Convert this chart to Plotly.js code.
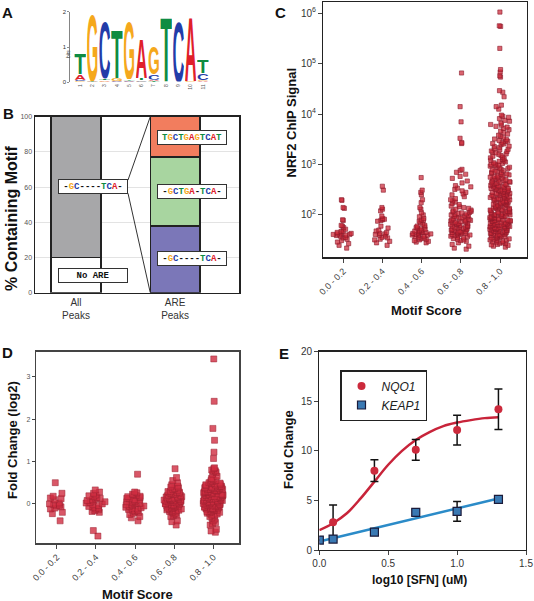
<!DOCTYPE html>
<html><head><meta charset="utf-8">
<script src="https://cdn.plot.ly/plotly-3.0.1.min.js"></script>
<style>html,body{margin:0;padding:0;background:#fff;}#chart{width:534px;height:601px;}</style>
</head><body><div id="chart"></div>
<script>
// ================= DATA =================
// A: sequence logo (bits per nucleotide at each position)
const logoPositions = [1,2,3,4,5,6,7,8,9,10,11];
const logoA = [0.16,0.02,0.04,0.02,0.03,1.13,0.04,0.00,0.01,1.87,0.03];
const logoC = [0.04,0.00,1.63,0.02,0.02,0.04,0.16,0.01,1.78,0.00,0.19];
const logoG = [0.03,1.95,0.02,0.08,1.68,0.02,0.80,0.01,0.01,0.02,0.03];
const logoT = [0.61,0.02,0.05,1.40,0.04,0.06,0.03,1.87,0.00,0.01,0.38];

// B: % containing motif
const peakSets = ['All<br>Peaks','ARE<br>Peaks'];
const allNoARE = [20];
const allWithARE = [80];
const areCore = [38];      // -GC----TCA-
const areExtended = [39];  // -GCTGA-TCA-
const areFull = [23];      // TGCTGAGTCAT

// C / D: motif score bins
const motifBins = ['0.0 - 0.2','0.2 - 0.4','0.4 - 0.6','0.6 - 0.8','0.8 - 1.0'];
const chipBin1 = [200,195,140,135,80,78,62,60,56,52,48,47,45,44,43,42,41,41,40,40,39,38,36,35,33,31,29,27,25,22];
const chipBin2 = [370,310,140,130,120,95,85,82,80,78,75,60,55,50,48,45,43,42,41,40,38,36,35,33,32,30,28,25];
const chipBin3 = [550,310,280,250,200,175,140,130,110,100,92,85,80,78,75,70,66,62,60,58,56,55,53,52,50,49,48,47,46,45,45,44,43,42,42,41,40,40,39,38,37,36,35,34,33,32,31,30,29,28];
const chipBin4 = [65000,14000,7000,3300,2700,2600,800,760,700,640,580,530,470,430,380,360,340,320,300,280,260,250,230,210,200,190,180,170,160,150,145,140,135,130,125,120,118,115,112,110,107,105,102,100,98,96,94,92,90,88,86,84,82,80,79,78,76,75,74,72,71,70,68,67,66,65,64,62,61,60,59,58,57,56,55,54,53,52,51,50,49,48,47,46,46,45,44,44,43,42,42,41,40,40,39,38,37,36,35,34,33,32,31,30,28,26,24,22,21];
const chipBin5 = [1050000,560000,545000,200000,76000,68000,57000,54000,29000,27000,22000,15000,14000,12500,
 9500,9000,8600,8100,7500,7200,6600,6200,6000,5700,5500,5200,4900,4600,4300,4000,3800,3600,3400,3200,
 3100,3000,2900,2850,2700,2600,2550,2450,2300,2250,2150,2050,2000,1950,1850,1800,1750,1700,1620,1580,1500,1460,1400,1350,1300,1260,1220,1180,1150,1120,1080,1050,1020,1000,
 980,960,930,900,880,850,830,810,790,760,740,720,700,690,670,650,640,620,600,590,575,560,550,540,525,515,500,490,480,470,460,450,445,435,425,415,410,400,395,385,380,372,365,360,352,345,340,335,328,322,318,
 315,310,305,300,295,290,285,280,276,272,268,264,260,255,250,246,242,238,234,230,226,222,218,215,212,208,205,202,198,195,192,188,185,182,180,177,174,171,168,165,162,160,157,155,152,150,148,145,143,140,138,136,134,131,129,127,125,123,121,119,117,115,113,112,110,108,106,105,103,102,100,
 99,98,96,95,94,92,91,90,88,87,86,85,84,82,81,80,79,78,77,76,75,74,73,72,71,70,69,68,67,66,65.5,65,64,63,62.5,62,61,60,59.5,59,58,57.5,57,56,55.5,55,54,53.5,53,52,51.5,51,50,49.5,49,48,47.5,47,46,45.5,45,44,43.5,43,42,41.5,41,40,39.5,39,38,37.5,37,36,35.5,35,34,33.5,33,32,31.5,31,30,29.5,29,28,27.5,27,26,25.5,25,24,23];

const foldBin1 = [0.5,0.25,0.18,0.14,0.12,0.1,0.02,0.0,-0.01,-0.03,-0.05,-0.07,-0.1,-0.12,-0.2,-0.23,-0.4];
const foldBin2 = [0.33,0.28,0.25,0.21,0.19,0.17,0.15,0.13,0.12,0.1,0.08,0.07,0.05,0.03,0.02,0.0,-0.02,-0.04,-0.06,-0.08,-0.1,-0.12,-0.14,-0.16,-0.18,-0.2,-0.63,-0.76];
const foldBin3 = [0.7,0.28,0.26,0.23,0.22,0.2,0.18,0.17,0.15,0.13,0.12,0.1,0.09,0.07,0.06,0.05,0.03,0.02,0.01,0.0,-0.01,-0.02,-0.04,-0.05,-0.06,-0.08,-0.09,-0.1,-0.12,-0.13,-0.15,-0.16,-0.18,-0.2,-0.22,-0.25,-0.3,-0.33,-0.4];
const foldBin4 = [0.83,0.62,0.55,0.5,0.45,0.42,0.4,0.38,0.36,0.34,0.32,0.3,0.29,0.28,0.27,0.26,0.25,0.24,0.23,0.22,0.21,0.2,0.19,0.18,0.17,0.16,0.15,0.14,0.13,0.12,0.12,0.11,0.1,0.1,0.09,0.08,0.08,0.07,0.06,0.06,0.05,0.04,0.04,0.03,0.02,0.02,0.01,0.0,0.0,-0.01,-0.02,-0.02,-0.03,-0.04,-0.05,-0.05,-0.06,-0.07,-0.08,-0.09,-0.1,-0.11,-0.12,-0.13,-0.14,-0.15,-0.16,-0.17,-0.18,-0.2,-0.22,-0.24,-0.26,-0.28,-0.3,-0.4,-0.42,-0.5];
const foldBin5 = [3.42,2.42,1.78,1.5,1.22,1.07,0.85,0.83,0.8,0.78,0.76,0.74,0.7,0.65,0.6,0.58,0.56,0.55,0.53,0.52,0.5,0.49,0.48,0.47,0.46,0.45,0.44,0.43,0.42,0.41,0.4,0.4,0.39,0.38,0.38,0.37,0.36,0.36,0.35,0.34,0.34,0.33,0.32,0.32,0.31,0.3,0.3,0.29,0.28,0.28,0.27,0.26,0.26,0.25,0.24,0.24,0.23,0.22,0.22,0.21,0.2,0.2,0.19,0.18,0.18,0.17,0.16,0.16,0.15,0.14,0.14,0.13,0.12,0.12,0.11,0.1,0.1,0.09,0.08,0.08,0.07,0.06,0.06,0.05,0.04,0.04,0.03,0.02,0.02,0.01,0.0,0.0,-0.01,-0.02,-0.02,-0.03,-0.04,-0.04,-0.05,-0.06,-0.06,-0.07,-0.08,-0.08,-0.09,-0.1,-0.1,-0.11,-0.12,-0.12,-0.13,-0.14,-0.15,-0.16,-0.17,-0.18,-0.19,-0.2,-0.21,-0.22,-0.24,-0.26,-0.28,-0.3,-0.33,-0.36,-0.4,-0.44,-0.47,-0.5,-0.6,-0.64,-0.67];

// E: dose response
const sfnDose = [0,0.1,0.4,0.7,1.0,1.3];
const nqo1 = [1.0,2.8,8.0,10.1,12.1,14.2];
const nqo1Err = [0,1.75,1.1,1.05,1.5,2.05];
const keap1 = [1.0,1.1,1.8,3.8,3.9,5.1];
const keap1Err = [0,0.1,0.15,0.3,1.0,0.35];
const nqo1FitX = [0,0.1,0.2,0.3,0.4,0.5,0.6,0.7,0.8,0.9,1.0,1.1,1.2,1.3];
const nqo1FitY = [2.0,2.7,3.7,5.2,6.9,8.6,10.0,11.1,11.9,12.5,12.85,13.1,13.3,13.4];
const keap1FitX = [0,1.3];
const keap1FitY = [0.85,5.2];

// ================= DRAWING =================
const W = 534, H = 601;
const FONT = 'Liberation Sans, Arial, Helvetica, sans-serif';
const MONO = 'Liberation Mono, Courier New, monospace';
const px = v => v / W;
const py = v => 1 - v / H;
const NT = {A:'#e0202a', C:'#233ca8', G:'#f5a81c', T:'#0f8c42'};

function letterSrc(letter) {
  const svg = '<svg xmlns="http://www.w3.org/2000/svg" width="100" height="100" viewBox="0 0 100 100" preserveAspectRatio="none">' +
    '<text x="0" y="100" textLength="100" lengthAdjust="spacingAndGlyphs" font-family="Liberation Sans, Arial, sans-serif" font-weight="bold" font-size="137" fill="' + NT[letter] + '">' + letter + '</text></svg>';
  return 'data:image/svg+xml;charset=utf-8,' + encodeURIComponent(svg);
}

const images = [];
logoPositions.forEach((p, i) => {
  const stack = [['A', logoA[i]], ['C', logoC[i]], ['G', logoG[i]], ['T', logoT[i]]]
    .filter(d => d[1] > 0.005).sort((a, b) => a[1] - b[1]);
  let base = 0;
  stack.forEach(([l, h]) => {
    images.push({source: letterSrc(l), xref: 'x', yref: 'y', x: p - 0.48, y: base + h,
      sizex: 0.96, sizey: h, xanchor: 'left', yanchor: 'top', sizing: 'stretch', layer: 'above'});
    base += h;
  });
});

function motif(str) {
  return '<b>' + str.split('').map(c => NT[c] ? '<span style="color:' + NT[c] + '">' + c + '</span>' : c).join('') + '</b>';
}

const traces = [];
// invisible trace to set up logo axes
traces.push({x: logoPositions, y: logoPositions.map(() => 0), xaxis: 'x', yaxis: 'y', mode: 'markers',
  marker: {opacity: 0}, showlegend: false, hoverinfo: 'skip'});

// B bars (stacked)
const barLine = {color: '#222', width: 1.5};
const barW = 0.5;
traces.push({type: 'bar', x: [0], y: allNoARE, width: barW, xaxis: 'x2', yaxis: 'y2', marker: {color: '#ffffff', line: barLine}, showlegend: false});
traces.push({type: 'bar', x: [0], y: allWithARE, width: barW, xaxis: 'x2', yaxis: 'y2', marker: {color: '#a7a7a9', line: barLine}, showlegend: false});
traces.push({type: 'bar', x: [1], y: areCore, width: barW, xaxis: 'x2', yaxis: 'y2', marker: {color: '#7b77b8', line: barLine}, showlegend: false});
traces.push({type: 'bar', x: [1], y: areExtended, width: barW, xaxis: 'x2', yaxis: 'y2', marker: {color: '#a8d5a0', line: barLine}, showlegend: false});
traces.push({type: 'bar', x: [1], y: areFull, width: barW, xaxis: 'x2', yaxis: 'y2', marker: {color: '#f27d5e', line: barLine}, showlegend: false});

// C jittered points
[chipBin1, chipBin2, chipBin3, chipBin4, chipBin5].forEach((vals, i) => {
  traces.push({type: 'box', y: vals, x0: i, xaxis: 'x3', yaxis: 'y3', boxpoints: 'all', jitter: 0.75, pointpos: 0,
    width: 0.7, fillcolor: 'rgba(0,0,0,0)', line: {width: 0, color: 'rgba(0,0,0,0)'},
    marker: {symbol: 'square', size: 4.2, color: 'rgba(204,40,55,0.72)', line: {width: 0.6, color: '#8a1a2a'}},
    showlegend: false, hoverinfo: 'y'});
});
// D jittered points
[foldBin1, foldBin2, foldBin3, foldBin4, foldBin5].forEach((vals, i) => {
  traces.push({type: 'box', y: vals, x0: i, xaxis: 'x4', yaxis: 'y4', boxpoints: 'all', jitter: 0.75, pointpos: 0,
    width: 0.7, fillcolor: 'rgba(0,0,0,0)', line: {width: 0, color: 'rgba(0,0,0,0)'},
    marker: {symbol: 'square', size: 6, color: 'rgba(208,45,65,0.8)', line: {width: 0.5, color: '#9a2030'}},
    showlegend: false, hoverinfo: 'y'});
});

// E
traces.push({x: nqo1FitX, y: nqo1FitY, xaxis: 'x5', yaxis: 'y5', mode: 'lines', line: {color: '#c8243a', width: 2.5, shape: 'spline'}, showlegend: false, hoverinfo: 'skip'});
traces.push({x: keap1FitX, y: keap1FitY, xaxis: 'x5', yaxis: 'y5', mode: 'lines', line: {color: '#2b8bc8', width: 2.5}, showlegend: false, hoverinfo: 'skip'});
traces.push({x: sfnDose, y: nqo1, xaxis: 'x5', yaxis: 'y5', mode: 'markers', name: '<i>NQO1</i>',
  marker: {symbol: 'circle', size: 8, color: '#cc2a3c'},
  error_y: {type: 'data', array: nqo1Err, visible: true, color: '#111', thickness: 1.5, width: 4}});
traces.push({x: sfnDose, y: keap1, xaxis: 'x5', yaxis: 'y5', mode: 'markers', name: '<i>KEAP1</i>',
  marker: {symbol: 'square', size: 8, color: '#3a79b3', line: {color: '#1b1b3a', width: 1.2}},
  error_y: {type: 'data', array: keap1Err, visible: true, color: '#111', thickness: 1.5, width: 4}});

const boxAxis = {showline: true, mirror: true, linecolor: '#222', linewidth: 1.3, zeroline: false, showgrid: false};

const layout = {
  width: W, height: H, margin: {l: 0, r: 0, t: 0, b: 0}, paper_bgcolor: '#fff', plot_bgcolor: 'rgba(0,0,0,0)',
  font: {family: FONT, color: '#222'},
  barmode: 'stack', boxmode: 'overlay',
  images: images,
  // A
  xaxis: {domain: [px(70), px(210)], anchor: 'y', range: [0.174, 11.58], tickvals: logoPositions, ticks: '', showgrid: false, zeroline: false,
    showline: false, tickfont: {size: 5, color: '#555'}, tickangle: -90, fixedrange: true},
  yaxis: {domain: [py(82.3), py(11.7)], anchor: 'x', range: [0, 2], tickvals: [0, 1, 2], ticks: 'outside', ticklen: 2, tickwidth: 0.6,
    showline: true, linewidth: 0.6, linecolor: '#333', showgrid: false, zeroline: false, tickfont: {size: 6, color: '#333'}},
  // B
  xaxis2: {domain: [px(35), px(239)], anchor: 'y2', range: [-0.414, 1.646], tickvals: [0, 1], ticktext: peakSets, ticks: '',
    tickfont: {size: 10, color: '#333'}, ...boxAxis, linewidth: 1.5},
  yaxis2: {domain: [py(292.7), py(116.7)], anchor: 'x2', range: [0, 100], tickvals: [0, 20, 40, 60, 80, 100], ticks: '',
    tickfont: {size: 7, color: '#555'}, ...boxAxis, linewidth: 1.5, showgrid: true, gridcolor: '#dcdcdc', gridwidth: 0.8},
  // C
  xaxis3: {type: 'linear', domain: [px(323.3), px(526.7)], anchor: 'y3', range: [-0.51, 4.68], tickvals: [0, 1, 2, 3, 4], ticktext: motifBins,
    tickangle: -45, ticks: 'outside', ticklen: 4, tickfont: {size: 9, color: '#444'}, ...boxAxis},
  yaxis3: {type: 'log', domain: [py(257.3), py(2)], anchor: 'x3', range: [1.16, 6.22], tickvals: [1e2, 1e3, 1e4, 1e5, 1e6],
    ticktext: ['10<sup>2</sup>', '10<sup>3</sup>', '10<sup>4</sup>', '10<sup>5</sup>', '10<sup>6</sup>'],
    ticks: 'outside', ticklen: 4, tickfont: {size: 10, color: '#333'}, ...boxAxis},
  // D
  xaxis4: {type: 'linear', domain: [px(36), px(239.3)], anchor: 'y4', range: [-0.53, 4.66], tickvals: [0, 1, 2, 3, 4], ticktext: motifBins,
    tickangle: -45, ticks: 'outside', ticklen: 4, tickfont: {size: 9, color: '#444'}, ...boxAxis, linecolor: '#444'},
  yaxis4: {domain: [py(543.3), py(351.7)], anchor: 'x4', range: [-0.93, 3.59], tickvals: [0, 1, 2, 3], ticks: 'outside', ticklen: 3,
    tickfont: {size: 7, color: '#555'}, ...boxAxis, linecolor: '#444'},
  // E
  xaxis5: {domain: [px(319.3), px(526)], anchor: 'y5', range: [0, 1.5], tickvals: [0, 0.5, 1, 1.5], tickformat: '.1f', ticks: 'outside', ticklen: 4,
    tickfont: {size: 10, color: '#333'}, ...boxAxis},
  yaxis5: {domain: [py(550), py(351.7)], anchor: 'x5', range: [0, 20], tickvals: [0, 5, 10, 15, 20], ticks: 'outside', ticklen: 4,
    tickfont: {size: 10, color: '#333'}, ...boxAxis},
  showlegend: true,
  legend: {x: px(340), y: py(370), xanchor: 'left', yanchor: 'top', bordercolor: '#222', borderwidth: 1.5, bgcolor: '#fff',
    font: {size: 12, family: FONT, color: '#222'}, tracegroupgap: 0, itemwidth: 30, traceorder: 'normal'},
  shapes: [
    {type: 'line', xref: 'x2', yref: 'y2', x0: 0.525, y0: 64, x1: 1 - barW / 2, y1: 100, line: {color: '#333', width: 1}},
    {type: 'line', xref: 'x2', yref: 'y2', x0: 0.525, y0: 56.5, x1: 1 - barW / 2, y1: 0, line: {color: '#333', width: 1}}
  ],
  annotations: []
};

const ann = layout.annotations;
// panel letters
[['A', 7, 13], ['B', 8, 113], ['C', 280, 13], ['D', 7, 352], ['E', 284, 353]].forEach(([t, x, y]) => {
  ann.push({text: '<b>' + t + '</b>', xref: 'paper', yref: 'paper', x: px(x), y: py(y), xanchor: 'center', yanchor: 'middle', showarrow: false, font: {size: 15, family: FONT, color: '#111'}});
});
// axis titles
function title(t, x, y, size, rot) {
  ann.push({text: '<b>' + t + '</b>', xref: 'paper', yref: 'paper', x: px(x), y: py(y), xanchor: 'center', yanchor: 'middle', showarrow: false,
    textangle: rot ? -90 : 0, font: {size: size, family: FONT, color: '#111'}});
}
title('% Containing Motif', 11, 218, 16, true);
title('NRF2 ChIP Signal', 291, 122.5, 13, true);
title('Motif Score', 426, 310, 13, false);
title('Fold Change (log2)', 12, 440, 13, true);
title('Motif Score', 137.5, 594, 13, false);
title('Fold Change', 288, 450, 13, true);
title('log10 [SFN] (uM)', 419, 580, 12, false);
ann.push({text: 'bits', xref: 'paper', yref: 'paper', x: px(63), y: py(48), textangle: -90, showarrow: false, font: {size: 5, color: '#444'}});
// B motif label boxes
function box(t, x, y) {
  ann.push({text: t, xref: 'x2', yref: 'y2', x: x, y: y, xanchor: 'center', yanchor: 'middle', showarrow: false,
    bgcolor: '#fff', bordercolor: '#333', borderwidth: 1, borderpad: 2, width: 64, height: 9,
    font: {family: MONO, size: 9, color: '#111'}});
}
box('<b>No ARE</b>', 0.17, 10);
box(motif('-GC----TCA-'), 0.17, 60.2);
box(motif('TGCTGAGTCAT'), 1.17, 87.9);
box(motif('-GCTGA-TCA-'), 1.17, 57.4);
box(motif('-GC----TCA-'), 1.17, 19.4);

Plotly.newPlot('chart', traces, layout, {staticPlot: true, displayModeBar: false});
</script></body></html>
